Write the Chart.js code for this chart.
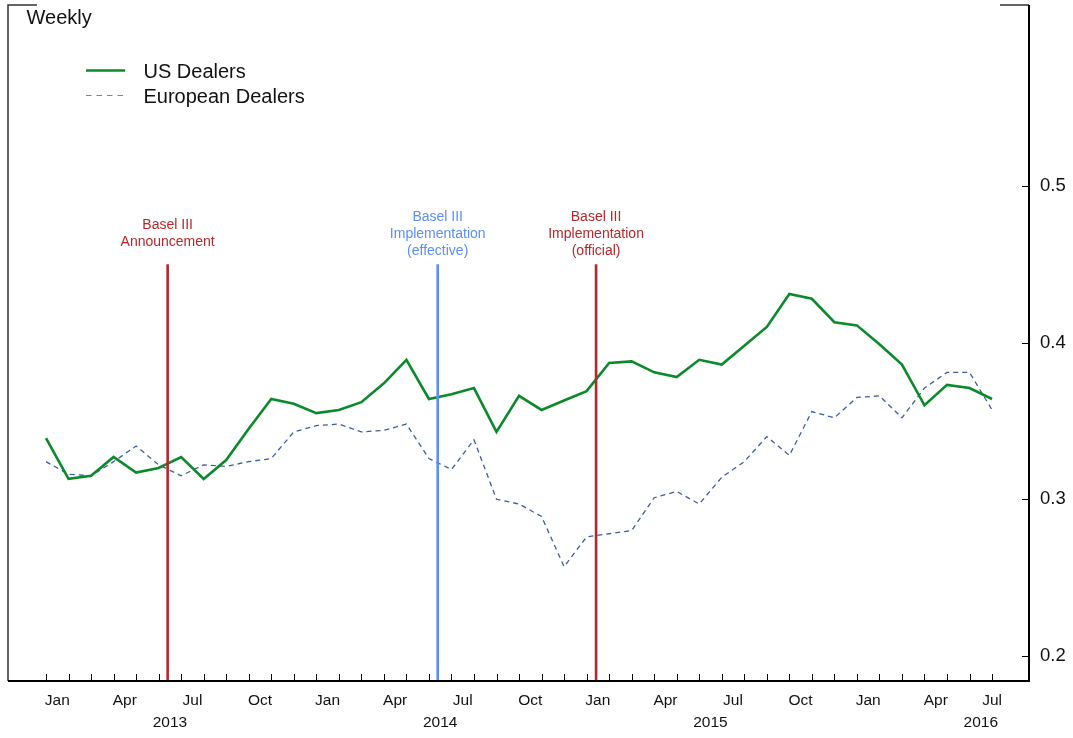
<!DOCTYPE html>
<html>
<head>
<meta charset="utf-8">
<script src="https://cdn.jsdelivr.net/npm/chart.js@4.4.1/dist/chart.umd.min.js"></script>
<style>
  html, body { margin: 0; padding: 0; background: #ffffff; }
  canvas { display: block; }
</style>
</head>
<body>
<canvas id="chart" width="1073" height="738"></canvas>
<script>
// Monthly observations, Jan 2013 through Jul 2016
const months = [];
for (let y = 2013; y <= 2016; y++) {
  for (let m = 1; m <= 12; m++) {
    if (y === 2016 && m > 7) break;
    months.push(y + '-' + String(m).padStart(2, '0'));
  }
}

const usDealers = [
  0.339, 0.313, 0.315, 0.327, 0.317, 0.320, 0.327, 0.313, 0.325, 0.345,
  0.364, 0.361, 0.355, 0.357, 0.362, 0.374, 0.389, 0.364, 0.367, 0.371,
  0.343, 0.366, 0.357, 0.363, 0.369, 0.387, 0.388, 0.381, 0.378, 0.389,
  0.386, 0.398, 0.410, 0.431, 0.428, 0.413, 0.411, 0.399, 0.386, 0.360,
  0.373, 0.371, 0.364
];

const europeanDealers = [
  0.324, 0.316, 0.315, 0.324, 0.334, 0.322, 0.315, 0.322, 0.321, 0.324,
  0.326, 0.343, 0.347, 0.348, 0.343, 0.344, 0.348, 0.326, 0.319, 0.338,
  0.300, 0.297, 0.289, 0.257, 0.276, 0.278, 0.280, 0.301, 0.305, 0.297,
  0.314, 0.324, 0.340, 0.328, 0.356, 0.352, 0.365, 0.366, 0.352, 0.371,
  0.381, 0.381, 0.357
];

const monthTickLabels = ['Jan', 'Apr', 'Jul', 'Oct'];
const yearLabels = ['2013', '2014', '2015', '2016'];
const yTicks = [0.2, 0.3, 0.4, 0.5];

// Regulatory events (position in months since Jan 2013)
const eventNames = [
  ['Basel III', 'Announcement'],
  ['Basel III', 'Implementation', '(effective)'],
  ['Basel III', 'Implementation', '(official)']
];
const eventMonths = [5.4, 17.39, 24.42];
const eventTop = 0.45;

// Styling
const GREEN = '#0b8a2b';
const NAVY = '#3d5c9f';
const RED = '#b8262b';
const LIGHT_BLUE = '#5b8ef7';
const eventColors = [RED, LIGHT_BLUE, RED];
const FONT = '"Liberation Sans", Arial, Helvetica, sans-serif';

const X_MIN = -1.687, X_MAX = 43.64;
const Y_MIN = 0.184, Y_MAX = 0.6155;

const datasets = [
  {
    label: 'US Dealers',
    data: usDealers.map((v, i) => ({ x: i, y: v })),
    borderColor: GREEN,
    borderWidth: 2.6,
    pointRadius: 0,
    tension: 0,
    order: 1
  },
  {
    label: 'European Dealers',
    data: europeanDealers.map((v, i) => ({ x: i, y: v })),
    borderColor: NAVY,
    borderWidth: 1.3,
    borderDash: [5, 4],
    pointRadius: 0,
    tension: 0,
    order: 2
  }
];
eventMonths.forEach((m, k) => {
  datasets.push({
    label: eventNames[k].join(' '),
    data: [{ x: m, y: Y_MIN }, { x: m, y: eventTop }],
    borderColor: eventColors[k],
    borderWidth: 2.6,
    pointRadius: 0,
    order: 0
  });
});

// scales keep no extra room for overhanging labels
function noPadding(s) {
  s.paddingTop = 0;
  s.paddingBottom = 0;
  s.paddingLeft = 0;
  s.paddingRight = 0;
}

const decorations = {
  id: 'decorations',
  afterDraw(chart) {
    const ctx = chart.ctx;
    const a = chart.chartArea;
    const xs = chart.scales.x;
    const ys = chart.scales.y;
    ctx.save();

    // frame
    ctx.lineCap = 'butt';
    ctx.strokeStyle = '#333';
    ctx.lineWidth = 1.5;
    ctx.beginPath();
    ctx.moveTo(a.left, a.bottom);
    ctx.lineTo(a.left, a.top);
    ctx.lineTo(a.left + 29, a.top);
    ctx.moveTo(a.right - 29, a.top);
    ctx.lineTo(a.right, a.top);
    ctx.stroke();

    ctx.strokeStyle = '#000';
    ctx.lineWidth = 2;
    ctx.beginPath();
    ctx.moveTo(a.left, a.bottom);
    ctx.lineTo(a.right, a.bottom);
    ctx.moveTo(a.right, a.bottom + 1);
    ctx.lineTo(a.right, a.top);
    ctx.stroke();

    // month tick marks
    ctx.lineWidth = 1;
    ctx.beginPath();
    for (let i = 0; i < months.length; i++) {
      const px = Math.round(xs.getPixelForValue(i)) + 0.5;
      ctx.moveTo(px, a.bottom);
      ctx.lineTo(px, a.bottom - 7);
    }
    ctx.stroke();

    // value tick marks
    ctx.lineWidth = 1.2;
    ctx.beginPath();
    yTicks.forEach(v => {
      const py = Math.round(ys.getPixelForValue(v)) + 0.5;
      ctx.moveTo(a.right, py);
      ctx.lineTo(a.right - 7, py);
    });
    ctx.stroke();

    // frequency note
    ctx.fillStyle = '#111';
    ctx.font = '20px ' + FONT;
    ctx.textAlign = 'left';
    ctx.textBaseline = 'alphabetic';
    ctx.fillText('Weekly', 26.5, 24);

    // legend
    ctx.strokeStyle = GREEN;
    ctx.lineWidth = 2.6;
    ctx.beginPath();
    ctx.moveTo(86, 70.5);
    ctx.lineTo(125, 70.5);
    ctx.stroke();
    ctx.strokeStyle = '#5a86e6';
    ctx.lineWidth = 1.2;
    ctx.setLineDash([5.5, 5]);
    ctx.beginPath();
    ctx.moveTo(86, 95.5);
    ctx.lineTo(125, 95.5);
    ctx.stroke();
    ctx.setLineDash([]);
    ctx.fillStyle = '#111';
    ctx.font = '20px ' + FONT;
    ctx.fillText(datasets[0].label, 143.5, 77.5);
    ctx.fillText(datasets[1].label, 143.5, 103);

    // event captions
    ctx.font = '14px ' + FONT;
    ctx.textAlign = 'center';
    ctx.textBaseline = 'middle';
    eventMonths.forEach((m, k) => {
      const px = xs.getPixelForValue(m);
      const lines = eventNames[k];
      ctx.fillStyle = eventColors[k];
      lines.forEach((t, j) => {
        ctx.fillText(t, px, 234 + (j - (lines.length - 1) / 2) * 17);
      });
    });

    ctx.restore();
  }
};

new Chart(document.getElementById('chart'), {
  type: 'line',
  data: { datasets },
  options: {
    responsive: false,
    devicePixelRatio: 1,
    animation: false,
    layout: { padding: { left: 8, top: 5, right: 0, bottom: 0 } },
    plugins: {
      legend: { display: false },
      tooltip: { enabled: false }
    },
    scales: {
      x: {
        type: 'linear',
        position: 'bottom',
        min: X_MIN,
        max: X_MAX,
        weight: 0,
        grid: { display: false, drawTicks: false },
        border: { display: false },
        afterBuildTicks(s) {
          const t = [];
          for (let i = 0; i < months.length; i += 3) {
            // labels sit mid-month; the final month is labelled at its own tick
            t.push({ value: i === months.length - 1 ? i : i + 0.5 });
          }
          s.ticks = t;
        },
        afterFit(s) { s.height = 30; noPadding(s); },
        ticks: {
          autoSkip: false,
          maxRotation: 0,
          padding: 10,
          color: '#111',
          font: { family: FONT, size: 15.5 },
          callback: (v, i) => monthTickLabels[i % 4]
        }
      },
      years: {
        type: 'linear',
        position: 'bottom',
        min: X_MIN,
        max: X_MAX,
        weight: 1,
        grid: { display: false, drawTicks: false },
        border: { display: false },
        afterBuildTicks(s) {
          s.ticks = yearLabels.map((_, k) => ({ value: k * 12 + 5.5 }));
        },
        afterFit(s) { s.height = 27; noPadding(s); },
        ticks: {
          autoSkip: false,
          maxRotation: 0,
          padding: 2,
          color: '#111',
          font: { family: FONT, size: 15.5 },
          callback: (v, i) => yearLabels[i]
        }
      },
      y: {
        type: 'linear',
        position: 'right',
        min: Y_MIN,
        max: Y_MAX,
        grid: { display: false, drawTicks: false },
        border: { display: false },
        afterBuildTicks(s) {
          s.ticks = yTicks.map(v => ({ value: v }));
        },
        afterFit(s) { s.width = 44; noPadding(s); },
        ticks: {
          padding: 11,
          color: '#111',
          font: { family: FONT, size: 18.5 },
          callback: v => v.toFixed(1)
        }
      }
    }
  },
  plugins: [decorations]
});
</script>
</body>
</html>
